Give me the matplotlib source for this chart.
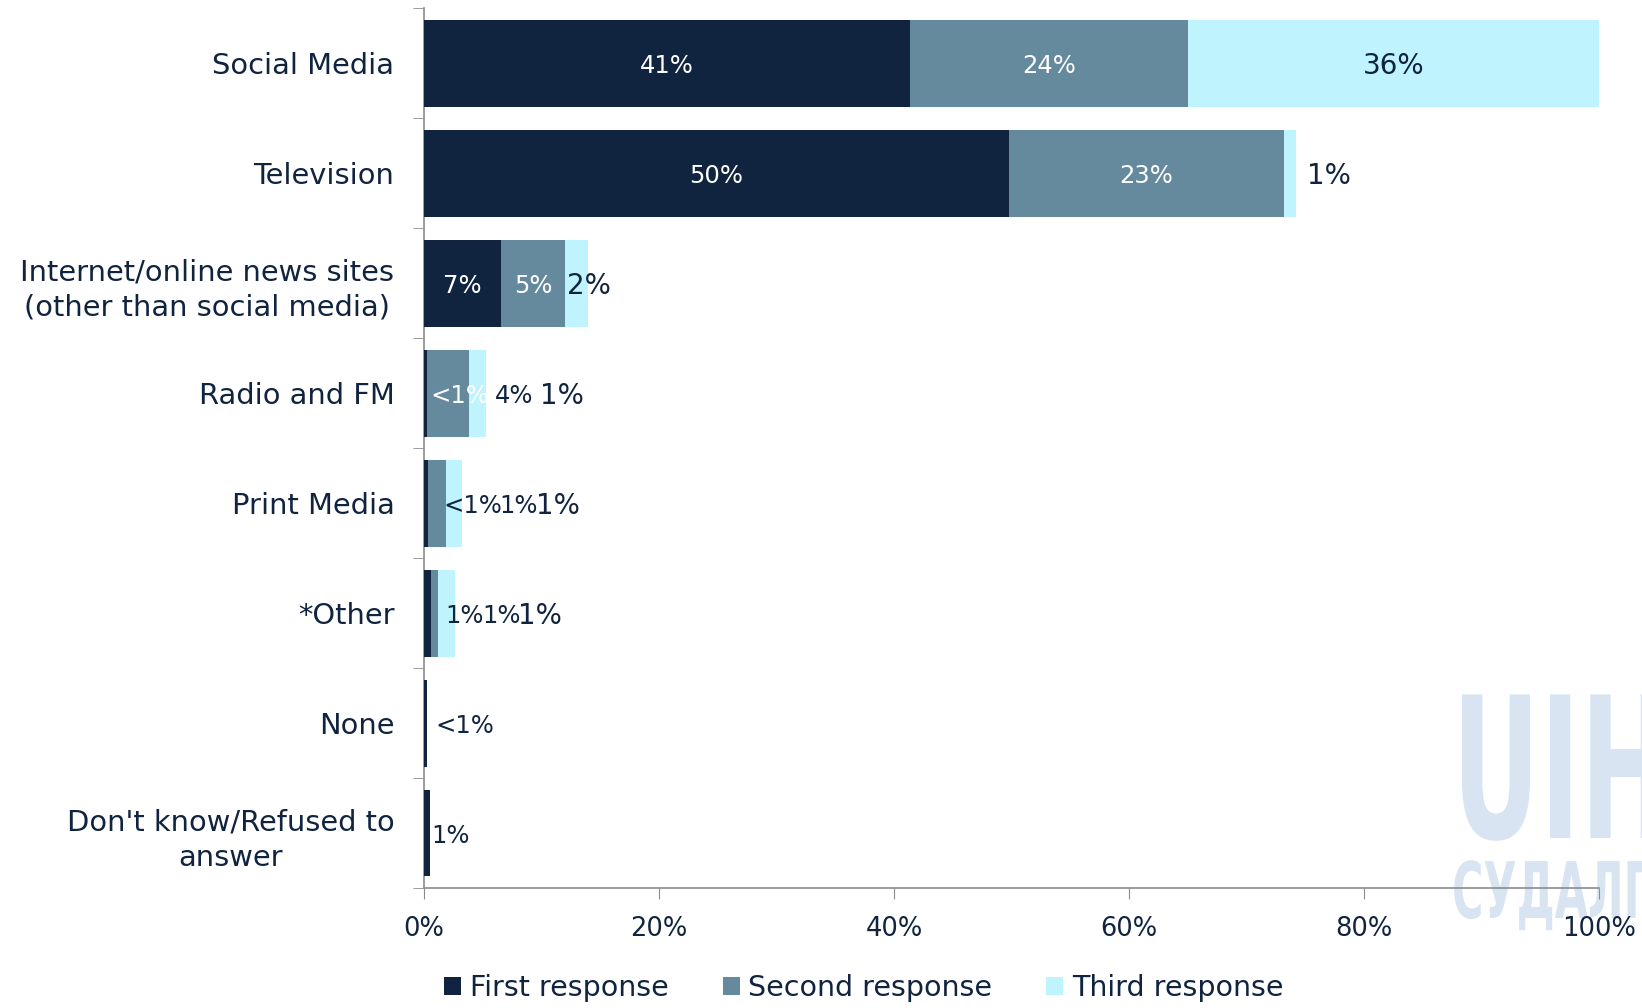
import matplotlib.pyplot as plt
import numpy as np
from matplotlib.textpath import TextPath
from matplotlib.font_manager import FontProperties
from matplotlib.patches import PathPatch
from matplotlib.transforms import Affine2D, IdentityTransform

plt.rcParams['font.family'] = ['DejaVu Sans']

categories = ["Social Media", "Television", "Internet/online news sites\n(other than social media)",
              "Radio and FM", "Print Media", "*Other", "None", "Don't know/Refused to\nanswer"]
first = [41.4, 49.8, 6.6, 0.3, 0.4, 0.6, 0.3, 0.5]
second = [23.6, 23.4, 5.4, 3.6, 1.5, 0.6, 0.0, 0.0]
third = [35.0, 1.0, 2.0, 1.4, 1.4, 1.5, 0.0, 0.0]

# printed labels as they appear on the chart
first_lbl = ["41%", "50%", "7%", "<1%", "<1%", "1%", "<1%", "1%"]
second_lbl = ["24%", "23%", "5%", "4%", "1%", "1%", "", ""]
third_lbl = ["36%", "1%", "2%", "1%", "1%", "1%", "", ""]

c1, c2, c3 = "#10233F", "#65899D", "#BFF3FD"
dark = "#10233F"

fig = plt.figure(figsize=(16.42, 10.08), dpi=100)
ax = fig.add_axes([0.258, 0.119, 0.716, 0.873])

y = np.arange(len(categories))
f = np.array(first)
s = np.array(second)
t = np.array(third)
ax.barh(y, f, height=0.79, color=c1, label="First response", zorder=3)
ax.barh(y, s, left=f, height=0.79, color=c2, label="Second response", zorder=3)
ax.barh(y, t, left=f + s, height=0.79, color=c3, label="Third response", zorder=3)

# label positions (in % units) for bars too thin to hold their text
lbl_x = {
    (1, 2): 77.0,
    (2, 2): 14.1,
    (3, 0): 3.1, (3, 1): 7.7, (3, 2): 11.8,
    (4, 0): 4.2, (4, 1): 8.1, (4, 2): 11.4,
    (5, 0): 3.5, (5, 1): 6.6, (5, 2): 9.9,
    (6, 0): 3.5,
    (7, 0): 2.3,
}
white_small = {(3, 0)}

for i in range(len(categories)):
    lefts = [0, f[i], f[i] + s[i]]
    widths = [f[i], s[i], t[i]]
    texts = [first_lbl[i], second_lbl[i], third_lbl[i]]
    for j in range(3):
        if not texts[j]:
            continue
        if (i, j) in lbl_x:
            x = lbl_x[(i, j)]
            col = "white" if (i, j) in white_small else dark
        else:
            x = lefts[j] + widths[j] / 2
            col = "white" if j < 2 else dark
        size = 20 if j == 2 else 17.5
        ax.text(x, i + 0.03, texts[j], ha="center", va="center", color=col,
                fontsize=size, zorder=5)

ax.set_xlim(0, 100)
ax.set_ylim(len(categories) - 0.5, -0.5)
ax.set_yticks(y)
ax.set_yticklabels(categories, fontsize=20.8, color=dark, linespacing=1.35,
                   multialignment="center")
ax.set_yticks(np.arange(-0.5, len(categories), 1), minor=True)
ax.tick_params(axis="y", which="major", length=0, pad=21)
ax.tick_params(axis="y", which="minor", length=8, color="#8C8C8C", direction="out")
ax.set_xticks(range(0, 101, 20))
ax.set_xticklabels([f"{v}%" for v in range(0, 101, 20)], fontsize=18.5, color=dark)
ax.tick_params(axis="x", length=8, color="#8C8C8C", pad=12)
for side in ["top", "right"]:
    ax.spines[side].set_visible(False)
for side in ["left", "bottom"]:
    ax.spines[side].set_color("#8C8C8C")
    ax.spines[side].set_linewidth(1.2)
ax.set_facecolor("none")

fig.legend(loc="center", bbox_to_anchor=(0.526, 0.02), ncol=3, frameon=False,
           fontsize=20.5, handlelength=0.6, handleheight=0.6, handletextpad=0.3,
           columnspacing=1.9, labelcolor=dark)

# watermark: condensed bold text drawn in pixel coordinates
bold = FontProperties(family="DejaVu Sans", weight="bold")
for txt, size, x0, y0 in [("UIH", 197, 1452, 170), ("СУДАЛГАА", 78, 1452, 90)]:
    p = TextPath((0, 0), txt, size=size, prop=bold)
    p = Affine2D().scale(0.55, 1.0).translate(x0, y0).transform_path(p)
    fig.add_artist(PathPatch(p, facecolor="#D9E4F2", edgecolor="none",
                             transform=IdentityTransform(), zorder=-1))

fig.savefig("out.png", dpi=100)
